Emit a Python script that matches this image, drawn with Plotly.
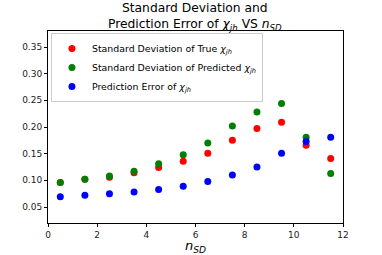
import plotly.graph_objects as go

n_sd = [0.5, 1.5, 2.5, 3.5, 4.5, 5.5, 6.5, 7.5, 8.5, 9.5, 10.5, 11.5]
std_true = [0.096, 0.102, 0.106, 0.114, 0.124, 0.136, 0.151, 0.175, 0.197, 0.209, 0.166, 0.141]
std_pred = [0.096, 0.102, 0.108, 0.117, 0.131, 0.148, 0.170, 0.202, 0.228, 0.244, 0.181, 0.113]
pred_err = [0.069, 0.072, 0.075, 0.078, 0.083, 0.089, 0.098, 0.110, 0.125, 0.151, 0.173, 0.181]

chi = "<i>χ</i><sub><i>jh</i></sub>"
names = ["Standard Deviation of True " + chi,
         "Standard Deviation of Predicted " + chi,
         "Prediction Error of " + chi]
colors = ["red", "green", "blue"]
series = [std_true, std_pred, pred_err]

fig = go.Figure()
for nm, c, s in zip(names, colors, series):
    fig.add_trace(go.Scatter(x=n_sd, y=s, mode="markers", name=nm,
                             marker=dict(color=c, size=7, line=dict(width=0))))

axis_common = dict(showline=True, linecolor="black", linewidth=1, mirror=True,
                   ticks="outside", ticklen=3, tickcolor="black", showgrid=False,
                   zeroline=False, tickfont=dict(size=9, color="#222222"),
                   automargin=False)

fig.update_layout(
    width=382, height=255,
    margin=dict(l=48, r=39, t=31, b=32),
    plot_bgcolor="white", paper_bgcolor="white",
    font=dict(family="DejaVu Sans", color="black"),
    title=dict(text="Standard Deviation and<br>Prediction Error of " + chi + " VS <i>n</i><sub><i>SD</i></sub>",
               x=0.51, xanchor="center", yref="container", y=0.953, yanchor="top",
               font=dict(size=12.3, color="black")),
    xaxis=dict(range=[0, 12], tickvals=[0, 2, 4, 6, 8, 10, 12],
               title=dict(text="<i>n</i><sub><i>SD</i></sub>", font=dict(size=13), standoff=0),
               **axis_common),
    yaxis=dict(range=[0.02, 0.38], tickvals=[0.05, 0.10, 0.15, 0.20, 0.25, 0.30, 0.35],
               tickformat=".2f", **axis_common),
    legend=dict(x=0.01, y=0.99, xanchor="left", yanchor="top",
                bgcolor="rgba(255,255,255,0.8)", bordercolor="#cccccc", borderwidth=1,
                font=dict(size=9.4), itemwidth=30, tracegroupgap=0),
    showlegend=True,
)

fig.write_html("out.html", config={"displayModeBar": False},
               post_script="document.body.style.margin='0';")
